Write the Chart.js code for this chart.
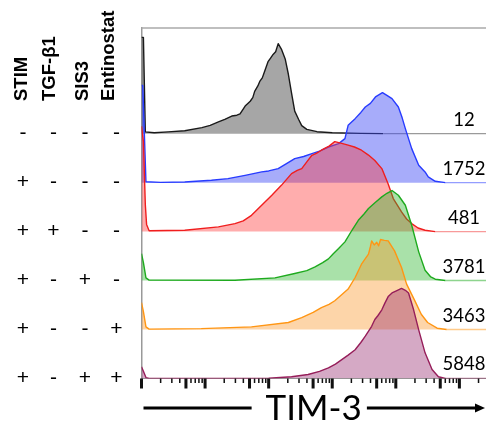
<!DOCTYPE html>
<html>
<head>
<meta charset="utf-8">
<script src="https://cdn.jsdelivr.net/npm/chart.js@4.4.1/dist/chart.umd.min.js"></script>
<style>
  body { margin: 0; background: #fff; }
  #wrap { width: 486px; height: 430px; }
</style>
</head>
<body>
<div id="wrap"><canvas id="histPlot" width="486" height="430"></canvas></div>
<script>
// treatment table (one row per histogram, top to bottom)
const treatments = ['STIM', 'TGF-β1', 'SIS3', 'Entinostat'];
const conditions = [
    ['-', '-', '-', '-'],
    ['+', '-', '-', '-'],
    ['+', '+', '-', '-'],
    ['+', '-', '+', '-'],
    ['+', '-', '-', '+'],
    ['+', '-', '+', '+']
];
const mfiLabels = ['12', '1752', '481', '3781', '3463', '5848'];

// histograms: [log10(TIM-3), % of mode]
const histUnstim = [[0,107],[0.03,107],[0.06,2],[0.2,1],[0.42,2],[0.68,3.3],[0.95,6.7],[1.08,9.2],[1.21,13],[1.31,16],[1.42,19.6],
    [1.5,20.5],[1.55,22],[1.63,30.7],[1.71,36],[1.75,40],[1.78,47],[1.83,53],[1.86,58],[1.9,62],[1.94,70],[1.99,80],[2.03,84],
    [2.07,88],[2.11,91],[2.15,100],[2.2,94],[2.26,83],[2.31,66],[2.36,45],[2.41,25],[2.47,16],[2.52,9],[2.6,4.8],[2.76,2.2],
    [3.0,1],[3.45,0.3],[3.8,0],[5.42,0]];
const histStim = [[0,108],[0.02,108],[0.07,1],[0.3,0.3],[0.68,0.7],[1.1,2.6],[1.36,4.4],[1.63,8.1],[1.89,11.9],[2.0,13],[2.15,15.6],
    [2.3,22],[2.41,26.7],[2.55,29],[2.68,32.2],[2.8,35],[2.94,39.6],[3.1,43.3],[3.2,48.9],[3.25,63.7],[3.36,71.1],[3.45,78],[3.52,84],
    [3.6,88],[3.68,95.2],[3.79,100],[3.86,97],[3.94,93.3],[4.04,84],[4.1,72],[4.15,60],[4.25,37.8],[4.36,19.3],[4.46,11.9],[4.51,6.3],
    [4.62,1.5],[4.78,0],[5.42,0]];
const histTgf = [[0,117],[0.03,100],[0.06,30],[0.08,8],[0.12,1],[0.68,1.5],[1.21,5.2],[1.47,8.9],[1.6,12],[1.73,18.1],[1.89,29.3],
    [2.05,40.4],[2.2,51.4],[2.36,64.4],[2.45,68],[2.52,70],[2.6,77.4],[2.68,84.8],[2.75,87],[2.83,90.4],[2.95,95],[3.04,100],[3.15,98],
    [3.25,96],[3.35,94],[3.46,90.4],[3.57,85],[3.67,78.9],[3.78,70],[3.88,53],[3.96,36.7],[4.09,22],[4.17,14],[4.25,8.9],[4.35,4],
    [4.46,1.5],[4.62,0],[5.42,0]];
const histSis3 = [[0,30],[0.03,20],[0.07,3],[0.12,0.5],[1.47,0.3],[2.1,3],[2.41,7.8],[2.6,11],[2.73,15.2],[2.85,20],[2.94,24.1],
    [3.02,30],[3.1,35.6],[3.2,43],[3.31,55.9],[3.41,67],[3.5,74],[3.57,80],[3.68,87],[3.78,93],[3.86,97],[3.94,100],[4.04,94.8],
    [4.15,83.7],[4.25,61.5],[4.36,31.9],[4.46,11.5],[4.55,4],[4.62,1.5],[4.78,0],[5.42,0]];
const histEnt = [[0,30],[0.03,20],[0.07,3],[0.12,0.5],[0.94,1],[1.73,3],[2.31,7.8],[2.52,13.3],[2.7,19],[2.83,24.4],[2.95,28],
    [3.04,32],[3.17,40],[3.25,45],[3.36,57.8],[3.46,72.6],[3.57,83.7],[3.6,92],[3.62,98.5],[3.66,94],[3.7,97],[3.73,93],[3.76,100],
    [3.82,99],[3.88,98.5],[3.98,87.4],[4.09,68.9],[4.17,50.4],[4.3,31.9],[4.4,17],[4.5,7.8],[4.65,1.5],[4.8,0],[5.42,0]];
const histSis3Ent = [[0,13],[0.03,8],[0.07,1],[0.12,0],[2.0,0.3],[2.36,1.9],[2.62,4.4],[2.8,8],[2.94,11.9],[3.05,16],[3.15,21],
    [3.25,26],[3.36,32],[3.45,40],[3.52,47],[3.62,58],[3.67,65.5],[3.72,70],[3.78,76.3],[3.83,84],[3.88,91],[3.94,95],[4.0,97],
    [4.09,100],[4.15,98],[4.2,95],[4.28,76.3],[4.36,54],[4.46,28.5],[4.57,10],[4.67,1.9],[4.78,0],[5.42,0]];

const histograms = [histUnstim, histStim, histTgf, histSis3, histEnt, histSis3Ent];
const lineColors = ['#1a1a1a', 'rgb(40,60,255)', 'rgb(240,30,30)', 'rgb(30,170,30)', 'rgb(255,150,20)', 'rgb(150,30,90)'];
const tailColors = ['#9a9a9a', 'rgba(40,60,255,0.5)', 'rgba(240,30,30,0.45)', 'rgba(30,170,30,0.5)', 'rgba(255,150,20,0.5)', 'rgba(150,30,90,0.6)'];
const fillColors = ['rgba(0,0,0,0.35)', 'rgba(60,70,245,0.45)', 'rgba(255,50,50,0.4)', 'rgba(40,180,40,0.4)', 'rgba(250,150,40,0.4)', 'rgba(150,40,110,0.4)'];

const rowStep = 54.4;       // vertical offset between rows, in % of mode
const xMax = 5.4185;        // log10(262144)

function rowBase(i) {
    return (histograms.length - 1 - i) * rowStep;
}

const datasets = histograms.map((hist, i) => ({
    data: hist.map(p => ({ x: p[0], y: rowBase(i) + p[1] })),
    borderColor: lineColors[i],
    backgroundColor: fillColors[i],
    borderWidth: 1.4,
    borderJoinStyle: 'round',
    pointRadius: 0,
    tension: 0,
    fill: { value: rowBase(i) },
    order: histograms.length - 1 - i,
    segment: {
        // flat empty bins at the right end look paler
        borderColor: ctx => (ctx.p0.parsed.y === rowBase(i) && ctx.p1.parsed.y === rowBase(i)) ? tailColors[i] : undefined
    }
}));

const decorations = {
    id: 'decorations',
    beforeDatasetsDraw(chart) {
        const ctx = chart.ctx;
        const area = chart.chartArea;
        ctx.save();
        ctx.strokeStyle = '#aaa';
        ctx.lineWidth = 1.5;
        ctx.beginPath();
        ctx.moveTo(area.left, area.top);
        ctx.lineTo(area.right, area.top);
        ctx.stroke();
        ctx.restore();
    },
    afterDraw(chart) {
        const ctx = chart.ctx;
        const xs = chart.scales.x;
        const ys = chart.scales.y;
        const area = chart.chartArea;
        ctx.save();

        // log tick marks
        ctx.fillStyle = '#111';
        xs.ticks.forEach(t => {
            const px = xs.getPixelForValue(t.value);
            const w = t.big ? 3 : 1.5;
            const len = t.big ? 10 : 4.5;
            ctx.fillRect(px - w / 2, area.bottom, w, len);
        });

        // treatment headers
        const headerX = [22, 50, 83, 109];
        ctx.fillStyle = '#000';
        ctx.font = 'bold 18.5px "Liberation Sans"';
        ctx.textAlign = 'left';
        ctx.textBaseline = 'middle';
        treatments.forEach((name, i) => {
            ctx.save();
            ctx.translate(headerX[i], 101);
            ctx.rotate(-Math.PI / 2);
            ctx.fillText(name, 0, 0);
            ctx.restore();
        });

        // +/- table
        const signX = [23, 53.5, 85, 116.5];
        ctx.font = '21px "Liberation Sans"';
        ctx.textAlign = 'center';
        conditions.forEach((row, r) => {
            const py = ys.getPixelForValue(rowBase(r));
            row.forEach((s, c) => ctx.fillText(s, signX[c], py));
        });

        // MFI values
        ctx.font = '18.5px Lato';
        mfiLabels.forEach((lab, r) => {
            const py = ys.getPixelForValue(rowBase(r));
            ctx.fillText(lab, 464, py - 14);
        });

        // axis title with arrow
        ctx.font = '35px Lato';
        const title = 'TIM-3';
        const tw = ctx.measureText(title).width;
        const cx = (area.left + area.right) / 2;
        const cy = area.bottom + 29.5;
        ctx.fillText(title, cx, cy + 1);
        ctx.strokeStyle = '#000';
        ctx.lineWidth = 3;
        ctx.beginPath();
        ctx.moveTo(area.left + 2, cy);
        ctx.lineTo(cx - tw / 2 - 14, cy);
        ctx.moveTo(cx + tw / 2 + 5, cy);
        ctx.lineTo(area.right - 8, cy);
        ctx.stroke();
        ctx.beginPath();
        ctx.moveTo(area.right - 1, cy);
        ctx.lineTo(area.right - 11, cy - 4.5);
        ctx.lineTo(area.right - 11, cy + 4.5);
        ctx.closePath();
        ctx.fill();

        ctx.restore();
    }
};

new Chart(document.getElementById('histPlot'), {
    type: 'line',
    data: { datasets: datasets },
    options: {
        responsive: false,
        animation: false,
        devicePixelRatio: 1,
        layout: { padding: { left: 141.5, top: 28, right: 0, bottom: 51.5 } },
        plugins: { legend: { display: false }, tooltip: { enabled: false } },
        scales: {
            x: {
                type: 'linear',
                min: 0,
                max: xMax,
                afterBuildTicks: scale => {
                    const ticks = [];
                    for (let n = 0; n <= 5; n++) {
                        for (let k = 1; k <= 9; k++) {
                            const v = n + Math.log10(k);
                            if (v <= scale.max) ticks.push({ value: v, big: k === 1 || k === 5 });
                        }
                    }
                    scale.ticks = ticks;
                },
                ticks: { display: false, autoSkip: false },
                grid: { display: false, drawTicks: false },
                border: { display: true, color: '#999', width: 1 }
            },
            y: {
                type: 'linear',
                min: 0,
                max: 389.4,
                ticks: { display: false },
                grid: { display: false, drawTicks: false },
                border: { display: true, color: '#999', width: 1.5 }
            }
        }
    },
    plugins: [decorations]
});
</script>
</body>
</html>
